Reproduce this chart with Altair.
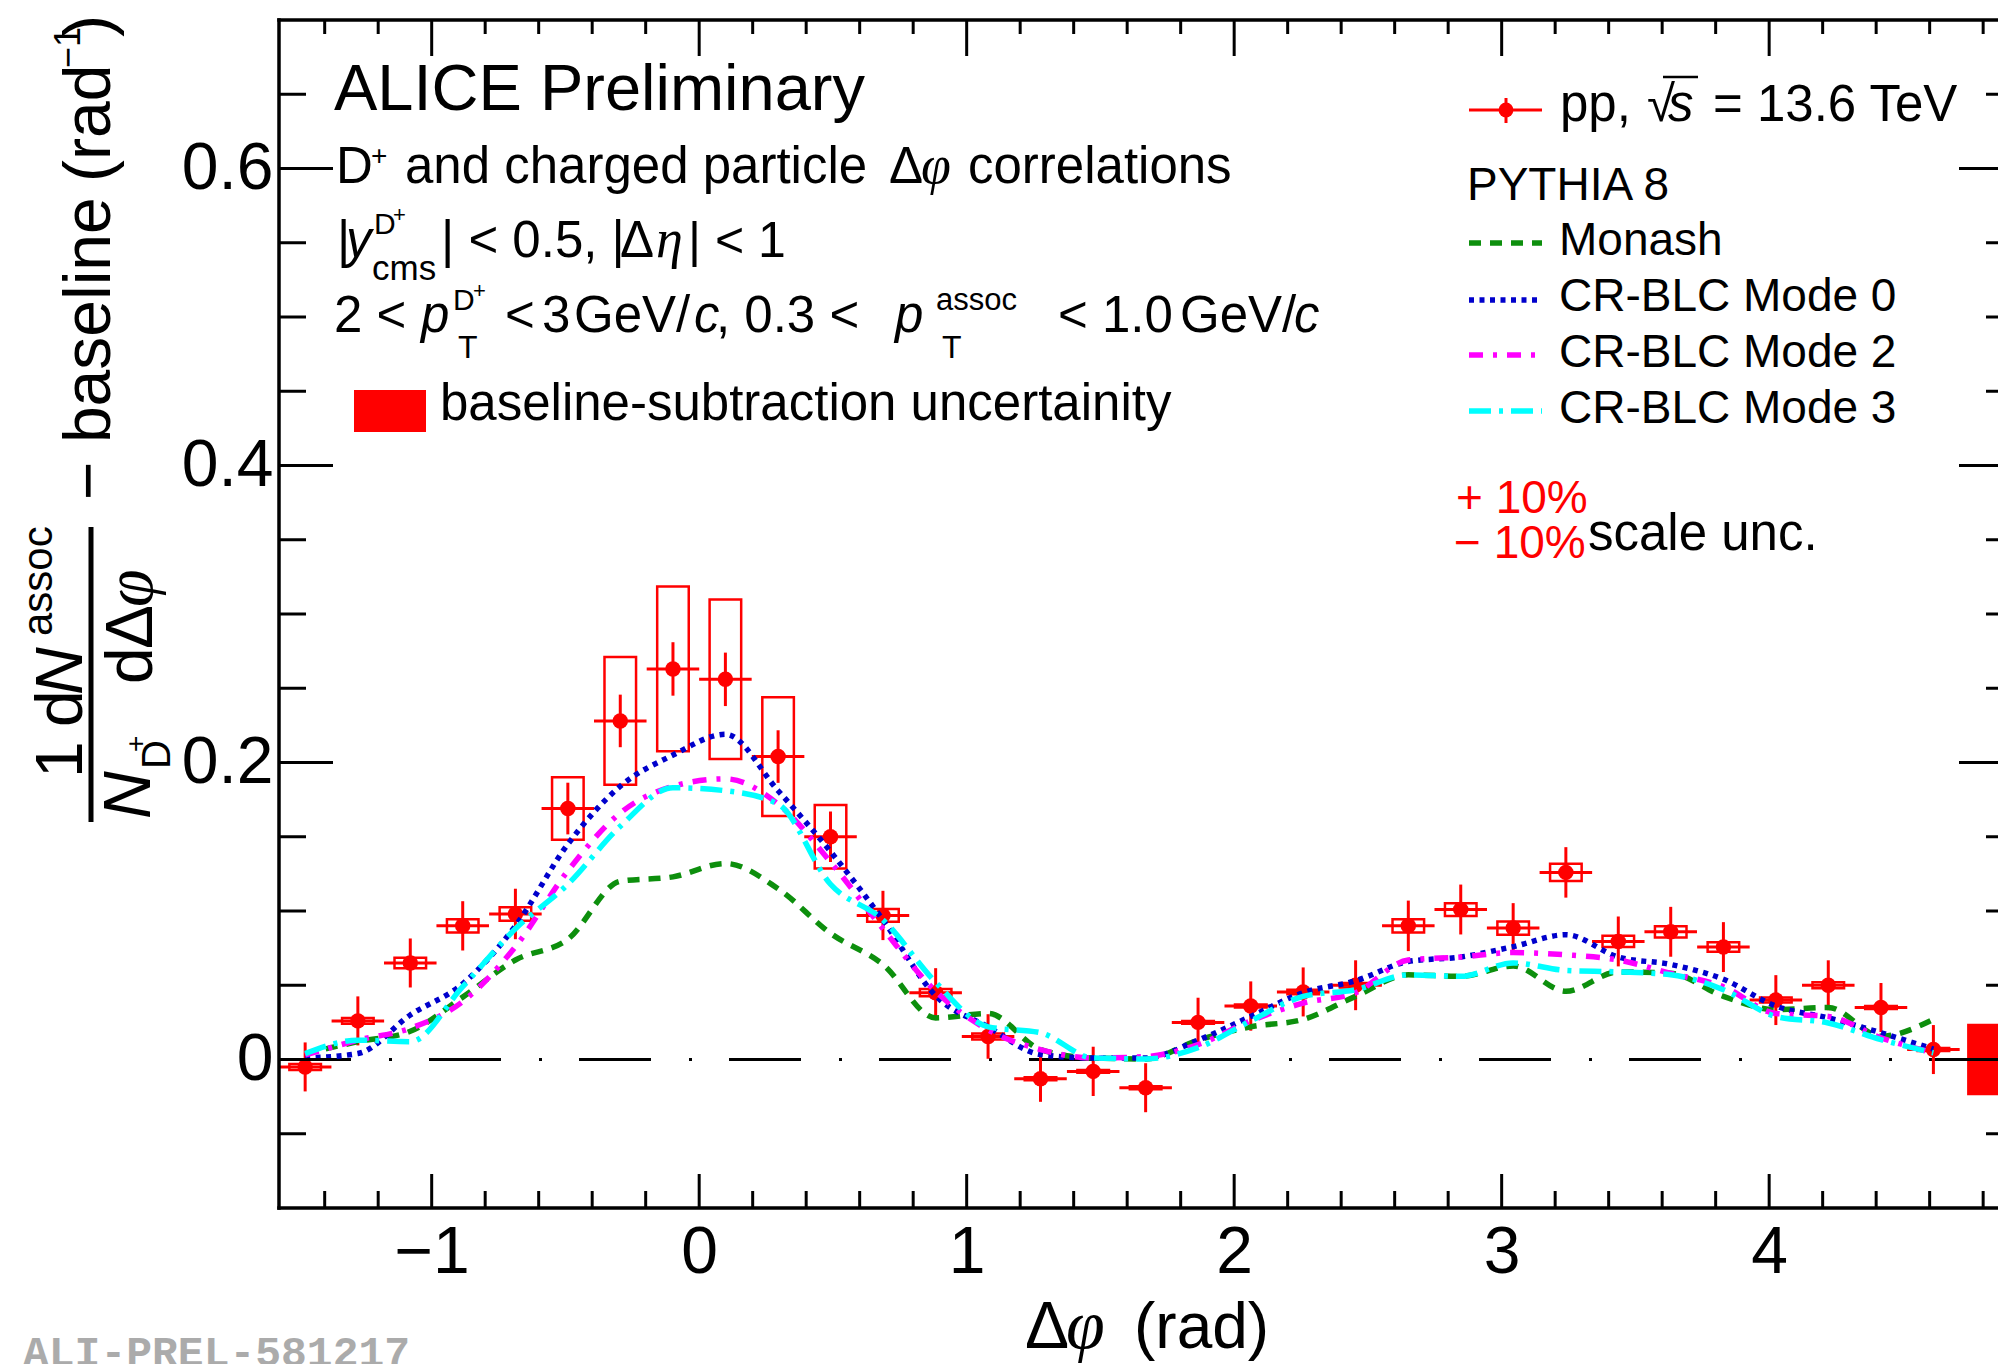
import altair as alt
import pandas as pd

# ---------------- data ----------------
DPHI = [-1.473, -1.276, -1.080, -0.884, -0.687, -0.491, -0.295, -0.098,
        0.098, 0.295, 0.491, 0.687, 0.884, 1.080, 1.276, 1.473,
        1.669, 1.865, 2.062, 2.258, 2.454, 2.651, 2.847, 3.043,
        3.240, 3.436, 3.632, 3.829, 4.025, 4.221, 4.418, 4.614]
HALF_BIN = 0.0982
BOX_HALF = 0.059

YVAL = [-0.005, 0.026, 0.065, 0.090, 0.098, 0.169, 0.228, 0.263,
        0.256, 0.204, 0.150, 0.097, 0.045, 0.0155, -0.013, -0.008,
        -0.019, 0.025, 0.036, 0.0455, 0.050, 0.090, 0.101, 0.0885,
        0.126, 0.0795, 0.086, 0.0757, 0.040, 0.050, 0.035, 0.0067]
STAT = [0.0165, 0.0165, 0.0165, 0.0166, 0.017, 0.0174, 0.0177, 0.018,
        0.018, 0.0177, 0.017, 0.0166, 0.0165, 0.015, 0.0155, 0.0166,
        0.0165, 0.0166, 0.0166, 0.0165, 0.0168, 0.017, 0.0168, 0.0168,
        0.017, 0.0168, 0.0168, 0.0168, 0.0168, 0.0168, 0.0165, 0.0165]
SYST = [0.002, 0.002, 0.0035, 0.0044, 0.0045, 0.021, 0.043, 0.0555,
        0.0537, 0.040, 0.0214, 0.0043, 0.0024, 0.002, 0.001, 0.001,
        0.001, 0.001, 0.001, 0.0015, 0.0015, 0.0045, 0.0043, 0.0045,
        0.0058, 0.0038, 0.0038, 0.0032, 0.0017, 0.002, 0.001, 0.001]

MONASH = [0.004, 0.012, 0.019, 0.042, 0.067, 0.081, 0.120, 0.123,
          0.132, 0.115, 0.085, 0.064, 0.028, 0.031, 0.0067, 0.001,
          0.0004, 0.013, 0.022, 0.027, 0.0425, 0.057, 0.056, 0.063,
          0.046, 0.059, 0.058, 0.0425, 0.0336, 0.035, 0.0157, 0.027]
MODE0 = [0.001, 0.004, 0.030, 0.051, 0.090, 0.145, 0.184, 0.205,
         0.219, 0.181, 0.140, 0.094, 0.043, 0.022, 0.0034, 0.001,
         0.001, 0.013, 0.029, 0.045, 0.053, 0.066, 0.069, 0.076,
         0.084, 0.069, 0.064, 0.054, 0.036, 0.028, 0.018, 0.007]
MODE2 = [0.003, 0.013, 0.021, 0.039, 0.076, 0.127, 0.166, 0.184,
         0.189, 0.172, 0.133, 0.088, 0.046, 0.020, 0.0067, 0.001,
         0.002, 0.010, 0.026, 0.038, 0.045, 0.067, 0.069, 0.072,
         0.0705, 0.067, 0.058, 0.049, 0.031, 0.029, 0.0146, 0.0045]
MODE3 = [0.004, 0.013, 0.012, 0.049, 0.088, 0.118, 0.157, 0.183,
         0.181, 0.172, 0.118, 0.094, 0.052, 0.022, 0.018, 0.001,
         0.0004, 0.008, 0.026, 0.0425, 0.047, 0.057, 0.056, 0.065,
         0.060, 0.059, 0.057, 0.047, 0.029, 0.0246, 0.0134, 0.0045]

BASE_UNC_X = [4.74, 4.95]
BASE_UNC = 0.024

X_MAJOR = [-1, 0, 1, 2, 3, 4]
X_MINOR = [-1.4, -1.2, -0.8, -0.6, -0.4, -0.2, 0.2, 0.4, 0.6, 0.8, 1.2, 1.4, 1.6, 1.8,
           2.2, 2.4, 2.6, 2.8, 3.2, 3.4, 3.6, 3.8, 4.2, 4.4, 4.6, 4.8]
Y_MAJOR = [0, 0.2, 0.4, 0.6]
Y_MINOR = [-0.05, 0.05, 0.1, 0.15, 0.25, 0.3, 0.35, 0.45, 0.5, 0.55, 0.65]

# ---------------- layout / style ----------------
L, T = 279, 20
W, H = 1719, 1188
XMIN, XMAX = -1.5708, 4.8555
YMIN, YMAX = -0.1, 0.7
SANS = "Liberation Sans"
SERIF = "Liberation Serif"
RED = "#ff0000"
GREEN, BLUE, MAG, CYAN = "#0d8f0d", "#0000cc", "#ff00ff", "#00ffff"
DASH = {"Monash": [12, 9], "Mode0": [5, 5.5], "Mode2": [14, 10, 4, 10], "Mode3": [22, 8, 4, 8]}
LW = 5.5

xs = alt.Scale(domain=[XMIN, XMAX], nice=False, zero=False)
ys = alt.Scale(domain=[YMIN, YMAX], nice=False, zero=False)
AX_X = alt.Axis(title=None, values=X_MAJOR, ticks=False, domain=False, grid=False,
                labelFont=SANS, labelFontSize=66, labelColor="black", labelPadding=12,
                labelOverlap=False, labelFlush=False,
                labelExpr="format(datum.value, 'd')")
AX_Y = alt.Axis(title=None, values=Y_MAJOR, ticks=False, domain=False, grid=False,
                labelFont=SANS, labelFontSize=66, labelColor="black", labelPadding=6,
                labelOverlap=False, labelFlush=False,
                labelExpr="datum.value == 0 ? '0' : format(datum.value, '.1f')")


def X(f):
    return alt.X(f, scale=xs, axis=AX_X)


def Y(f):
    return alt.Y(f, scale=ys, axis=AX_Y)


df = pd.DataFrame({"x": DPHI, "y": YVAL, "stat": STAT, "syst": SYST})
df["xlo"] = df["x"] - HALF_BIN
df["xhi"] = df["x"] + HALF_BIN
df["ylo"] = df["y"] - df["stat"]
df["yhi"] = df["y"] + df["stat"]
df["bxlo"] = df["x"] - BOX_HALF
df["bxhi"] = df["x"] + BOX_HALF
df["bylo"] = df["y"] - df["syst"]
df["byhi"] = df["y"] + df["syst"]

layers = []

# zero reference line
layers.append(alt.Chart(pd.DataFrame({"y": [0.0]})).mark_rule(
    color="black", strokeWidth=3, strokeDash=[72, 38, 3, 37]).encode(
    y=Y("y:Q"), x=alt.value(0), x2=alt.value(W)))

# baseline-subtraction uncertainty box
layers.append(alt.Chart(pd.DataFrame({"x1": [BASE_UNC_X[0]], "x2": [BASE_UNC_X[1]],
                                      "y1": [-BASE_UNC], "y2": [BASE_UNC]})).mark_rect(
    color=RED, clip=True).encode(x=X("x1:Q"), x2="x2:Q", y=Y("y1:Q"), y2="y2:Q"))

# systematic boxes
layers.append(alt.Chart(df).mark_rect(fillOpacity=0, stroke=RED, strokeWidth=2.5).encode(
    x=X("bxlo:Q"), x2="bxhi:Q", y=Y("bylo:Q"), y2="byhi:Q"))
# statistical error bars
layers.append(alt.Chart(df).mark_rule(color=RED, strokeWidth=3).encode(
    x=X("x:Q"), y=Y("ylo:Q"), y2="yhi:Q"))
layers.append(alt.Chart(df).mark_rule(color=RED, strokeWidth=3).encode(
    x=X("xlo:Q"), x2="xhi:Q", y=Y("y:Q")))
layers.append(alt.Chart(df).mark_circle(color=RED, size=240, opacity=1).encode(
    x=X("x:Q"), y=Y("y:Q")))

# PYTHIA curves
for name, vals, col in [("Monash", MONASH, GREEN), ("Mode0", MODE0, BLUE),
                        ("Mode2", MODE2, MAG), ("Mode3", MODE3, CYAN)]:
    cdf = pd.DataFrame({"x": DPHI, "y": vals})
    layers.append(alt.Chart(cdf).mark_line(
        color=col, strokeWidth=LW, strokeDash=DASH[name], interpolate="monotone").encode(
        x=X("x:Q"), y=Y("y:Q")))


# ticks (inward)
def tick_layer(vals, axis, a, b):
    d = pd.DataFrame({"v": vals})
    if axis == "x":
        return alt.Chart(d).mark_rule(color="black", strokeWidth=3).encode(
            x=X("v:Q"), y=alt.value(a), y2=alt.value(b))
    return alt.Chart(d).mark_rule(color="black", strokeWidth=3).encode(
        y=Y("v:Q"), x=alt.value(a), x2=alt.value(b))


layers += [
    tick_layer(X_MAJOR, "x", H, H - 34), tick_layer(X_MINOR, "x", H, H - 17),
    tick_layer(X_MAJOR, "x", 0, 36), tick_layer(X_MINOR, "x", 0, 14),
    tick_layer(Y_MAJOR, "y", 0, 54), tick_layer(Y_MINOR, "y", 0, 27),
    tick_layer(Y_MAJOR, "y", W - 39, W), tick_layer(Y_MINOR, "y", W - 12, W),
]

ONE = pd.DataFrame({"a": [0]})


def prule(x1, y1, x2, y2, color="black", width=3.5, dash=None, cap="butt"):
    kw = dict(color=color, strokeWidth=width, strokeCap=cap)
    if dash:
        kw["strokeDash"] = dash
    return alt.Chart(ONE).mark_rule(**kw).encode(
        x=alt.value(x1 - L), y=alt.value(y1 - T), x2=alt.value(x2 - L), y2=alt.value(y2 - T))


# frame (left, top, bottom; right edge lies outside the picture)
layers += [prule(L, T, L, T + H, width=3.5, cap="square"),
           prule(L, T, L + W + 5, T, width=3.5, cap="square"),
           prule(L, T + H, L + W + 5, T + H, width=3.5, cap="square")]


def txt(s, px, py, size, style="normal", font=SANS, color="black", angle=0, weight="normal"):
    return alt.Chart(pd.DataFrame({"t": [s]})).mark_text(
        align="left", baseline="alphabetic", font=font, fontSize=size, fontStyle=style,
        fontWeight=weight, color=color, angle=angle).encode(
        text="t:N", x=alt.value(px - L), y=alt.value(py - T))


# ---- top-left text block ----
layers += [
    txt("ALICE Preliminary", 334, 110, 65),
    txt("D", 336, 183, 51), txt("+", 371, 165, 28),
    txt("and charged particle", 405, 183, 51),
    txt("Δ", 889, 183, 51), txt("φ", 921, 183, 54, style="italic", font=SERIF),
    txt("correlations", 968, 183, 51),
    # line 3
    txt("|", 337, 257, 51), txt("y", 346, 257, 51, style="italic"),
    txt("D", 374, 234, 30), txt("+", 393, 222, 22), txt("cms", 372, 280, 35),
    txt("| < 0.5, |", 441, 257, 51), txt("Δ", 620, 257, 51),
    txt("η", 656, 257, 54, style="italic", font=SERIF), txt("| < 1", 688, 257, 50),
    # line 4
    txt("2 <", 334, 332, 51), txt("p", 421, 332, 51, style="italic"),
    txt("D", 453, 310, 30), txt("+", 473, 298, 22), txt("T", 458, 358, 32),
    txt("<", 505, 332, 51), txt("3", 542, 332, 51), txt("GeV/", 574, 332, 51),
    txt("c", 694, 332, 51, style="italic"), txt(", 0.3 <", 716, 332, 51),
    txt("p", 895, 332, 51, style="italic"),
    txt("assoc", 936, 310, 31), txt("T", 942, 358, 32),
    txt("< 1.0", 1058, 332, 51), txt("GeV/", 1180, 332, 51),
    txt("c", 1294, 332, 51, style="italic"),
    # swatch
    txt("baseline-subtraction uncertainity", 440, 420, 51),
]
layers.append(alt.Chart(ONE).mark_rect(color=RED).encode(
    x=alt.value(354 - L), x2=alt.value(426 - L), y=alt.value(390 - T), y2=alt.value(432 - T)))

# ---- legend (right) ----
layers += [
    prule(1469, 110, 1542, 110, color=RED, width=3),
    prule(1506, 98, 1506, 123, color=RED, width=3),
    alt.Chart(ONE).mark_circle(color=RED, size=220, opacity=1).encode(
        x=alt.value(1506 - L), y=alt.value(110 - T)),
    txt("pp,", 1560, 121, 51), txt("√", 1647, 121, 51),
    txt("s", 1668, 121, 51, style="italic"),
    prule(1663, 77, 1698, 77, width=2.5),
    txt("= 13.6 TeV", 1713, 121, 51),
    txt("PYTHIA 8", 1467, 200, 46),
    prule(1469, 243, 1542, 243, color=GREEN, width=LW, dash=DASH["Monash"]),
    txt("Monash", 1559, 255, 46),
    prule(1469, 300, 1542, 300, color=BLUE, width=LW, dash=DASH["Mode0"]),
    txt("CR-BLC Mode 0", 1559, 311, 46),
    prule(1469, 355, 1542, 355, color=MAG, width=LW, dash=DASH["Mode2"]),
    txt("CR-BLC Mode 2", 1559, 367, 46),
    prule(1469, 411, 1542, 411, color=CYAN, width=LW, dash=DASH["Mode3"]),
    txt("CR-BLC Mode 3", 1559, 423, 46),
    txt("+ 10%", 1456, 513, 46, color=RED),
    txt("− 10%", 1454, 558, 46, color=RED),
    txt("scale unc.", 1588, 550, 51),
]

# ---- y title (rotated) ----
A = 270
layers += [
    txt("1", 82, 778, 66, angle=A),
    txt("d", 82, 727, 66, angle=A), txt("N", 82, 695, 66, style="italic", angle=A),
    txt("assoc", 52, 636, 42, angle=A),
    prule(91, 527, 91, 822, width=5),
    txt("N", 150, 819, 66, style="italic", angle=A),
    txt("D", 170, 769, 40, angle=A), txt("+", 145, 752, 28, angle=A),
    txt("d", 152, 684, 66, angle=A), txt("Δ", 152, 649, 66, angle=A),
    txt("φ", 152, 607, 68, style="italic", font=SERIF, angle=A),
    txt("− baseline", 110, 500, 66, angle=A),
    txt("(rad", 110, 182, 66, angle=A),
    txt("−1", 80, 68, 36, angle=A),
    txt(")", 110, 37, 66, angle=A),
]

# ---- x title ----
layers += [
    txt("Δ", 1025, 1348, 66),
    txt("φ", 1066, 1348, 70, style="italic", font=SERIF),
    txt("(rad)", 1134, 1348, 64),
]

# watermark
layers.append(txt("ALI-PREL-581217", 23, 1366, 43, font="Liberation Mono",
                  color="#ababab", weight="bold"))

chart = alt.layer(*layers).properties(
    width=W, height=H,
    autosize=alt.AutoSizeParams(type="none"),
    padding={"left": L, "top": T, "right": 0, "bottom": 1364 - T - H},
    background="white",
).configure_view(stroke=None)

chart.save("out.html", embed_options={"renderer": "svg", "actions": False})
